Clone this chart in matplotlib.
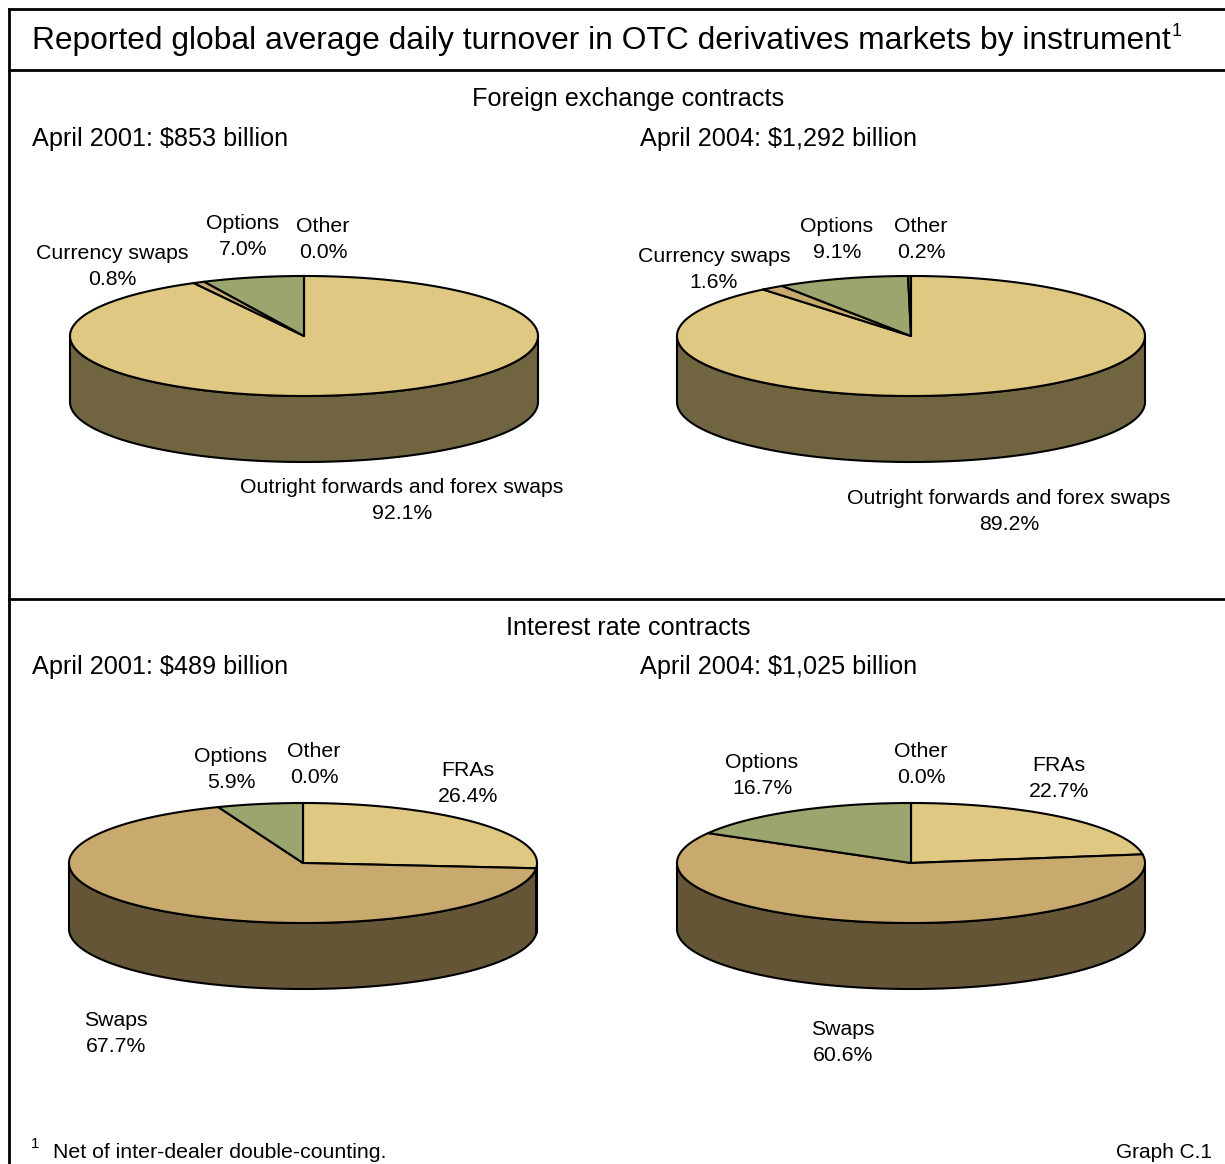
"""
Reported global average daily turnover in OTC derivatives markets by instrument.
Four elliptical (3-D style) pies drawn with plain patches.
"""

import numpy as np
import matplotlib
matplotlib.use("Agg")
import matplotlib.pyplot as plt
from matplotlib.patches import Polygon
from matplotlib.colors import to_rgb

plt.rcParams["font.family"] = ["Liberation Sans", "DejaVu Sans"]

# ---- data -----------------------------------------------------------------
fx_categories = ["Outright forwards and forex swaps", "Currency swaps", "Options", "Other"]
fx_2001 = [92.1, 0.8, 7.0, 0.0]
fx_2004 = [89.2, 1.6, 9.1, 0.2]
fx_totals = ["$853 billion", "$1,292 billion"]

ir_categories = ["FRAs", "Swaps", "Options", "Other"]
ir_2001 = [26.4, 67.7, 5.9, 0.0]
ir_2004 = [22.7, 60.6, 16.7, 0.0]
ir_totals = ["$489 billion", "$1,025 billion"]

slice_colors = ["#DFC882", "#C8A96E", "#9BA56E", "#6F7F4A"]

# ---- layout (pixel coordinates, y down) -------------------------------------
W, H = 1225, 1164
RX, RY, DEPTH = 234, 60, 66
LABEL_SIZE = 15.3
HEAD_SIZE = 18.2
DY = 1.5  # small text nudge downwards


def shade(color, f=0.5):
    r, g, b = to_rgb(color)
    return (r * f, g * f, b * f)


def draw_pie(ax, values, colors, cx, cy):
    fracs = np.array(values, dtype=float) / sum(values)
    bounds = 90 - 360 * np.concatenate([[0], np.cumsum(fracs)])

    def pts(ts, dy=0.0):
        r = np.radians(ts)
        return np.column_stack([cx + RX * np.cos(r), cy - RY * np.sin(r) + dy])

    # sides (front half only: sin < 0)
    for i in range(len(values)):
        hi, lo = bounds[i], bounds[i + 1]
        if hi - lo <= 0:
            continue
        for k in range(-2, 3):
            a = max(lo, -180 + 360 * k)
            b = min(hi, 360 * k)
            if b - a <= 0:
                continue
            ts = np.linspace(a, b, 120)
            top = pts(ts)
            bot = pts(ts[::-1], DEPTH)
            ax.add_patch(Polygon(np.vstack([top, bot]), closed=True,
                                 facecolor=shade(colors[i]), edgecolor="black",
                                 linewidth=1.5, joinstyle="round"))

    # top faces
    for i in range(len(values)):
        hi, lo = bounds[i], bounds[i + 1]
        ts = np.linspace(hi, lo, max(2, int((hi - lo) * 2)))
        verts = np.vstack([[cx, cy], pts(ts)])
        if hi - lo <= 0:
            ax.plot([cx, verts[1, 0]], [cy, verts[1, 1]], color="black", lw=1.5)
            continue
        ax.add_patch(Polygon(verts, closed=True, facecolor=colors[i],
                             edgecolor="black", linewidth=1.5, joinstyle="round"))


def label(ax, x, y, name, value):
    ax.text(x, y + DY, f"{name}\n{value:.1f}%", ha="center", va="center",
            fontsize=LABEL_SIZE, linespacing=1.42)


fig = plt.figure(figsize=(W / 100, H / 100), dpi=100)
ax = fig.add_axes([0, 0, 1, 1])
ax.set_xlim(0, W)
ax.set_ylim(H, 0)
ax.axis("off")

# frame
for (x0, y0, x1, y1) in [(9, 9, W, 9), (9, 9, 9, H), (9, 70, W, 70), (9, 599, W, 599)]:
    ax.plot([x0, x1], [y0, y1], color="black", lw=2.0, solid_capstyle="projecting")

title = ax.text(32, 41, "Reported global average daily turnover in OTC derivatives markets by instrument",
                ha="left", va="center", fontsize=22.9)
fig.canvas.draw()
bb = title.get_window_extent(renderer=fig.canvas.get_renderer())
ax.text(bb.x1 + 1, 31, "1", ha="left", va="center", fontsize=13)

# foreign exchange
ax.text(628, 99, "Foreign exchange contracts", ha="center", va="center", fontsize=HEAD_SIZE)
ax.text(32, 139, f"April 2001: {fx_totals[0]}", ha="left", va="center", fontsize=HEAD_SIZE)
ax.text(640, 139, f"April 2004: {fx_totals[1]}", ha="left", va="center", fontsize=HEAD_SIZE)

draw_pie(ax, fx_2001, slice_colors, 304, 336)
draw_pie(ax, fx_2004, slice_colors, 911, 336)

label(ax, 112, 265, fx_categories[1], fx_2001[1])
label(ax, 243, 235, fx_categories[2], fx_2001[2])
label(ax, 323, 238, fx_categories[3], fx_2001[3])
label(ax, 402, 499, fx_categories[0], fx_2001[0])

label(ax, 714, 268, fx_categories[1], fx_2004[1])
label(ax, 837, 238, fx_categories[2], fx_2004[2])
label(ax, 921, 238, fx_categories[3], fx_2004[3])
label(ax, 1009, 510, fx_categories[0], fx_2004[0])

# interest rate
ax.text(628, 628, "Interest rate contracts", ha="center", va="center", fontsize=HEAD_SIZE)
ax.text(32, 667, f"April 2001: {ir_totals[0]}", ha="left", va="center", fontsize=HEAD_SIZE)
ax.text(640, 667, f"April 2004: {ir_totals[1]}", ha="left", va="center", fontsize=HEAD_SIZE)

draw_pie(ax, ir_2001, slice_colors, 303, 863)
draw_pie(ax, ir_2004, slice_colors, 911, 863)

label(ax, 231, 768, ir_categories[2], ir_2001[2])
label(ax, 314, 763, ir_categories[3], ir_2001[3])
label(ax, 468, 782, ir_categories[0], ir_2001[0])
label(ax, 116, 1032, ir_categories[1], ir_2001[1])

label(ax, 762, 774, ir_categories[2], ir_2004[2])
label(ax, 921, 763, ir_categories[3], ir_2004[3])
label(ax, 1059, 777, ir_categories[0], ir_2004[0])
label(ax, 843, 1041, ir_categories[1], ir_2004[1])

# footnote
ax.text(35, 1144, "1", ha="center", va="center", fontsize=11)
ax.text(53, 1152, "Net of inter-dealer double-counting.", ha="left", va="center", fontsize=15.3)
ax.text(1212, 1152, "Graph C.1", ha="right", va="center", fontsize=15)

fig.savefig("out.png", dpi=100)
plt.close(fig)
